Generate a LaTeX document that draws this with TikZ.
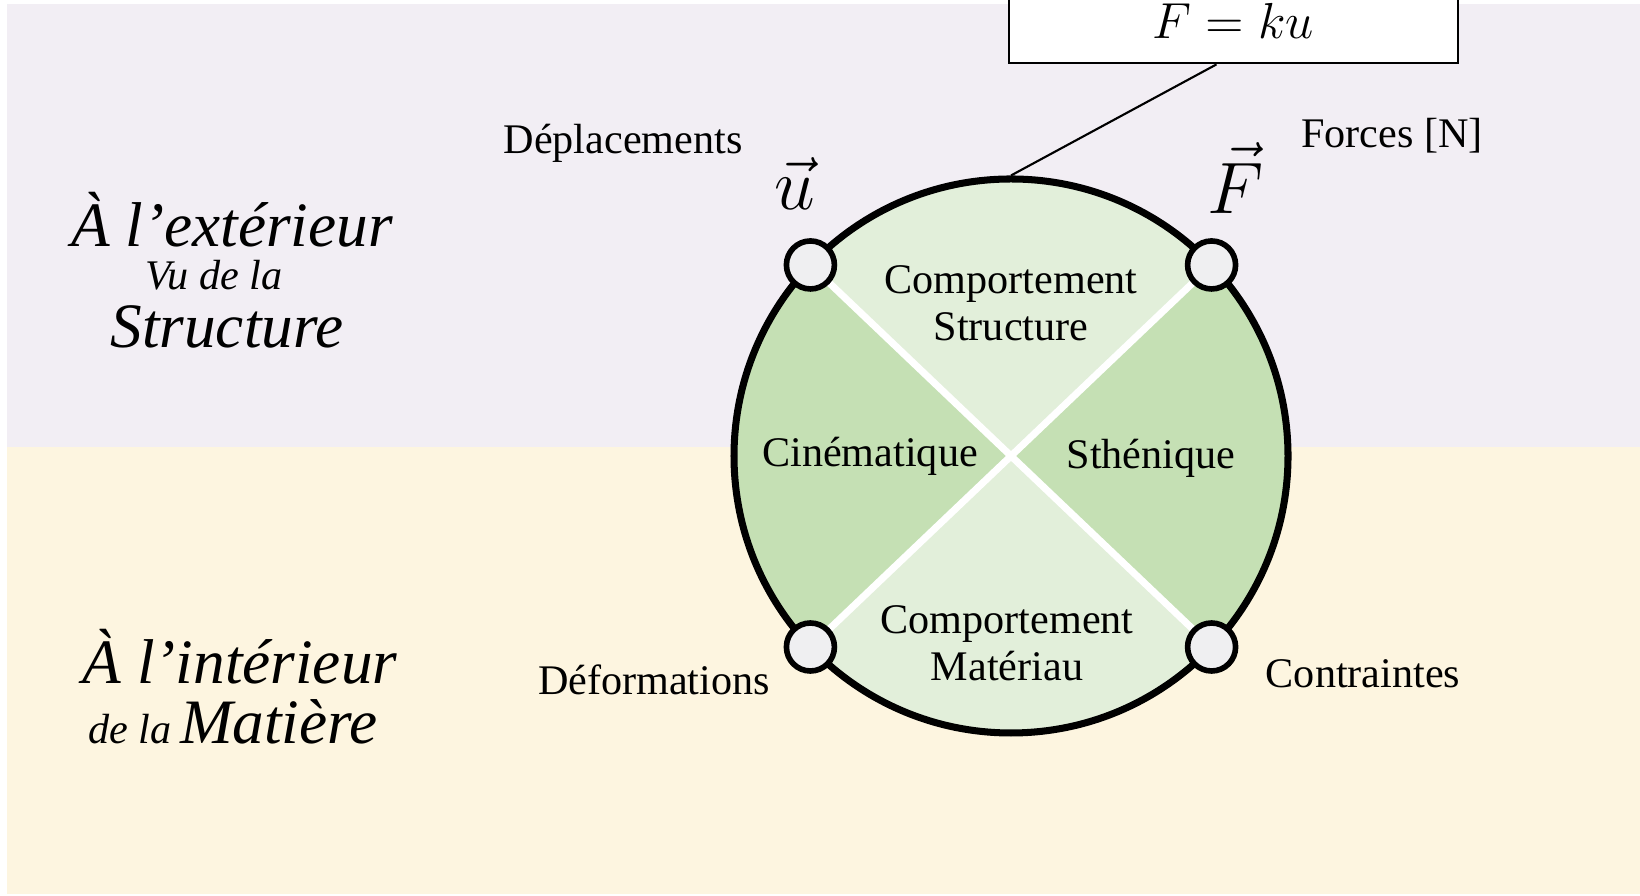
\documentclass[tikz,border=0pt]{standalone}
\usepackage{fontspec}
\setmainfont{Liberation Serif}
\usetikzlibrary{positioning}
\definecolor{outsidebg}{HTML}{F2EEF4}
\definecolor{insidebg}{HTML}{FDF5E0}
\definecolor{greendark}{HTML}{C5E0B4}
\definecolor{greenlight}{HTML}{E2EFDA}
\definecolor{portgray}{HTML}{EFEFF1}
\tikzset{
    % Disc styles
    disc/.style={circle, draw, line width=2pt, minimum size=5.54cm, inner sep=0pt},
    divider/.style={white, line width=2pt},
    port/.style={circle, draw, line width=1.6pt, fill=portgray, minimum size=4.8mm, inner sep=0pt},
    % Text styles
    quad label/.style={font=\fontsize{12}{13.5}\selectfont, align=center},
    side label/.style={font=\fontsize{12}{14}\selectfont},
    vec label/.style={font=\fontsize{21}{24}\selectfont},
    big italic/.style={font=\fontsize{18}{20}\selectfont\itshape},
    small italic/.style={font=\fontsize{12}{14}\selectfont\itshape},
    % Law box
    law box/.style={rectangle, draw, line width=0.8pt, fill=white, minimum width=4.49cm,
                    minimum height=0.84cm, font=\fontsize{15}{17}\selectfont},
    link/.style={line width=0.6pt},
}

\begin{document}
\begin{tikzpicture}
    \useasboundingbox (0,0) rectangle (16.4,8.96);
    \clip (0,0) rectangle (16.4,8.96);

    % Zones
    \fill[outsidebg] (0.07,4.49) rectangle (16.4,8.92);
    \fill[insidebg] (0.07,0.02) rectangle (16.4,4.49);

    % Quadrants
    \coordinate (c) at (10.11,4.40);
    \fill[greenlight] (c) -- ++(43.6:2.77) arc[start angle=43.6, end angle=136.4, radius=2.77] -- cycle;
    \fill[greendark] (c) -- ++(136.4:2.77) arc[start angle=136.4, end angle=223.6, radius=2.77] -- cycle;
    \fill[greenlight] (c) -- ++(223.6:2.77) arc[start angle=223.6, end angle=316.4, radius=2.77] -- cycle;
    \fill[greendark] (c) -- ++(316.4:2.77) arc[start angle=316.4, end angle=403.6, radius=2.77] -- cycle;
    \path (c) ++(43.6:2.77) coordinate (ne);
    \path (c) ++(136.4:2.77) coordinate (nw);
    \path (c) ++(223.6:2.77) coordinate (sw);
    \path (c) ++(316.4:2.77) coordinate (se);
    \draw[divider] (nw) -- (se);
    \draw[divider] (ne) -- (sw);
    \node[disc] (disc) at (c) {};

    % Ports
    \node[port] (portU) at (nw) {};
    \node[port] (portF) at (ne) {};
    \node[port] (portEps) at (sw) {};
    \node[port] (portSig) at (se) {};

    % Quadrant labels
    \node[quad label] (structLbl) at (10.11,5.93) {Comportement\\Structure};
    \node[quad label] (kineLbl) at (8.70,4.40) {Cinématique};
    \node[quad label] (sthenLbl) at (11.51,4.38) {Sthénique};
    \node[quad label] (matLbl) at (10.07,2.53) {Comportement\\Matériau};

    % Port labels
    \node[side label] (deplLbl) at (6.23,7.53) {Déplacements};
    \node[side label] (forceLbl) at (13.92,7.60) {Forces [N]};
    \node[side label] (defLbl) at (6.54,2.16) {Déformations};
    \node[side label] (contLbl) at (13.63,2.22) {Contraintes};
    \node[vec label] (uVec) at (7.95,7.12) {$\vec{u}$};
    \node[vec label] (FVec) at (12.36,7.18) {$\vec{F}$};

    % Law
    \node[law box] (law) at (12.335,8.75) {$F = ku$};
    \draw[link] ([xshift=-1.7mm]law.south) -- (disc.north);

    % Zone titles
    \node[big italic] (extLbl) at (2.32,6.76) {À l’extérieur};
    \node[small italic] (vuLbl) at (2.14,6.21) {Vu de la};
    \node[big italic] (structTitle) at (2.27,5.69) {Structure};
    \node[big italic] (intLbl) at (2.40,2.39) {À l’intérieur};
    \node (matTitle) at (2.33,1.74) {{\fontsize{12}{14}\selectfont\itshape de la}
        {\fontsize{18}{20}\selectfont\itshape Matière}};
\end{tikzpicture}
\end{document}
